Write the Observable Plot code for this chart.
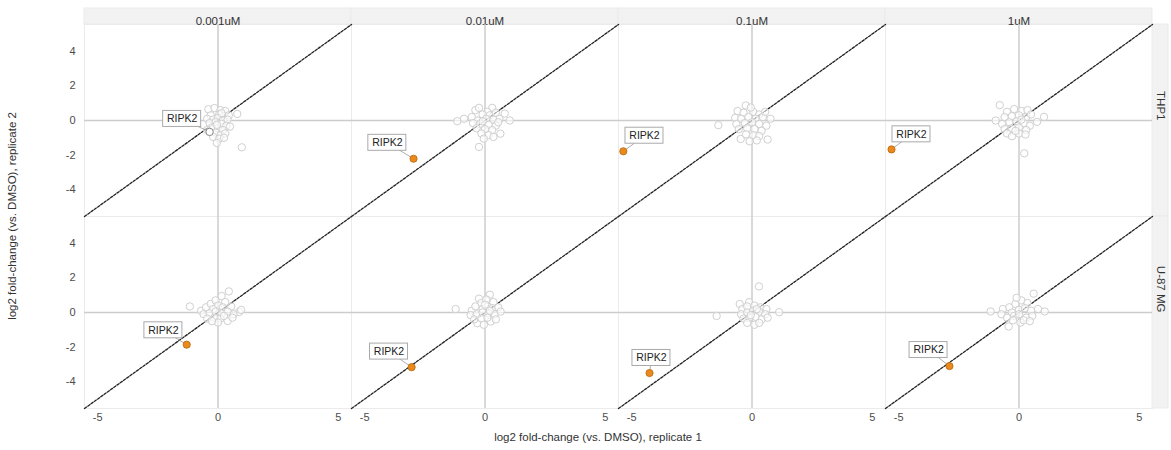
<!DOCTYPE html>
<html><head><meta charset="utf-8">
<script src="https://cdn.jsdelivr.net/npm/d3@7"></script>
<script src="https://cdn.jsdelivr.net/npm/@observablehq/plot@0.6"></script>
<style>body{margin:0;background:#fff} #chart svg{display:block}</style>
</head><body><div id="chart"></div>
<script>
const concentrations = ["0.001uM", "0.01uM", "0.1uM", "1uM"];
const cellLines = ["THP1", "U-87 MG"];
const xTicks = [-5, 0, 5];
const yTicks = [-4, -2, 0, 2, 4];
const axisRange = [-5.55, 5.55];
const xTitle = "log2 fold-change (vs. DMSO), replicate 1";
const yTitle = "log2 fold-change (vs. DMSO), replicate 2";
const geneName = "RIPK2";

// background proteins, [replicate1, replicate2]
const thp1_0001 = [[-0.4,0.65],[-0.15,0.72],[0.1,0.6],[0.3,0.55],[0.05,0.35],[-0.3,0.3],[0.25,0.25],[0.45,0.3],[0.8,0.38],[-0.45,0.1],[-0.2,0.05],[0.0,0.15],[0.2,0.0],[0.4,0.05],[-0.35,-0.15],[-0.1,-0.1],[0.15,-0.2],[0.35,-0.3],[0.5,-0.35],[-0.25,-0.4],[0.0,-0.45],[0.2,-0.55],[-0.45,-0.55],[-0.1,-0.7],[0.1,-0.85],[0.3,-0.75],[-0.2,-0.95],[0.05,-1.05],[-0.05,-1.3],[0.99,-1.55],[0.15,0.42],[-0.05,-0.25],[0.25,-1.0]];
const thp1_001 = [[-1.15,-0.04],[-0.87,0.1],[-0.55,0.2],[-0.4,0.6],[-0.25,0.73],[0.3,0.73],[0.1,0.5],[-0.1,0.35],[0.2,0.3],[0.45,0.45],[0.82,0.4],[1.03,0.0],[0.6,0.1],[0.35,0.05],[0.05,0.1],[-0.3,0.0],[-0.5,-0.15],[-0.2,-0.2],[0.15,-0.25],[0.45,-0.3],[0.64,-0.76],[0.3,-0.55],[0.0,-0.5],[-0.35,-0.45],[-0.15,-0.75],[0.15,-0.85],[0.35,-0.95],[-0.05,-1.05],[-0.25,-1.53],[0.55,-0.1],[-0.1,-0.05]];
const thp1_01 = [[-1.4,-0.27],[-0.26,0.87],[-0.6,0.55],[-0.35,0.45],[0.05,0.5],[0.3,0.35],[-0.7,0.15],[-0.45,0.1],[-0.15,0.2],[0.15,0.1],[0.45,0.2],[0.77,0.1],[-0.65,-0.2],[-0.3,-0.15],[0.0,-0.1],[0.3,-0.2],[0.6,-0.3],[-0.55,-0.5],[-0.2,-0.45],[0.1,-0.5],[0.4,-0.6],[-0.47,-1.07],[-0.25,-0.8],[0.05,-0.85],[0.3,-0.9],[0.65,-1.1],[-0.1,-1.2],[0.2,-1.15],[-0.05,0.75],[0.55,0.5]];
const thp1_1 = [[-0.8,0.89],[-0.97,0.0],[1.04,0.21],[0.75,-0.08],[0.22,-1.9],[-0.5,0.5],[-0.2,0.66],[0.1,0.55],[0.35,0.6],[-0.6,0.2],[-0.3,0.25],[0.0,0.3],[0.3,0.2],[0.5,0.35],[-0.7,-0.2],[-0.4,-0.1],[-0.1,-0.05],[0.2,-0.15],[0.45,-0.3],[-0.6,-0.5],[-0.3,-0.45],[0.0,-0.4],[0.3,-0.55],[-0.5,-0.75],[-0.29,-0.91],[0.0,-0.75],[0.27,-0.81],[0.1,0.05],[-0.15,-0.6]];
const u87_0001 = [[-1.17,0.35],[0.45,1.22],[0.88,0.03],[0.4,-0.49],[-0.7,0.1],[-0.5,0.3],[-0.3,0.5],[-0.1,0.7],[0.15,0.95],[0.3,0.6],[0.0,0.4],[-0.2,0.2],[0.2,0.3],[0.55,0.35],[-0.6,-0.1],[-0.35,-0.05],[-0.1,0.05],[0.15,-0.05],[0.4,0.05],[0.65,-0.1],[-0.45,-0.35],[-0.15,-0.3],[0.1,-0.35],[0.0,-0.58],[0.25,-0.2],[-0.25,-0.5],[0.6,-0.3],[0.96,0.15]];
const u87_001 = [[-1.22,0.2],[0.2,1.03],[-0.25,0.8],[-0.32,-0.62],[0.24,-0.52],[-0.55,0.1],[-0.4,0.35],[-0.15,0.55],[0.05,0.75],[0.35,0.6],[0.1,0.35],[-0.1,0.2],[0.3,0.25],[0.55,0.3],[-0.6,-0.15],[-0.35,-0.1],[-0.1,0.0],[0.15,-0.05],[0.4,-0.1],[0.65,0.05],[-0.45,-0.4],[-0.15,-0.35],[0.1,-0.3],[0.45,-0.4],[-0.05,-0.71],[0.0,0.45],[0.2,0.1]];
const u87_01 = [[0.29,1.51],[1.13,0.02],[-0.51,0.49],[-1.47,-0.2],[-0.12,0.6],[-0.4,0.2],[-0.2,0.35],[0.1,0.4],[0.35,0.3],[0.6,0.2],[-0.45,-0.1],[-0.2,0.0],[0.05,0.1],[0.3,0.05],[0.55,-0.1],[-0.35,-0.35],[-0.1,-0.3],[0.15,-0.25],[0.4,-0.4],[0.65,-0.3],[-0.2,-0.6],[0.1,-0.71],[0.3,-0.6],[-0.05,-0.15],[0.2,0.2]];
const u87_1 = [[-1.18,0.06],[0.61,1.09],[1.07,0.06],[-0.43,-0.81],[-0.67,0.2],[-0.73,-0.1],[-0.4,0.3],[-0.15,0.5],[0.1,0.7],[0.35,0.55],[0.79,0.2],[-0.3,0.0],[0.0,0.15],[0.25,0.25],[0.5,0.1],[-0.5,-0.3],[-0.2,-0.2],[0.06,-0.58],[0.3,-0.3],[0.55,-0.2],[-0.25,-0.45],[0.2,-0.45],[0.45,-0.5],[0.0,-0.1],[-0.1,0.85]];

// RIPK2 per panel (THP1 x4, then U-87 MG x4): [rep1, rep2]
const ripk2Values = [[-0.35,-0.66],[-2.97,-2.21],[-5.35,-1.78],[-5.3,-1.67],[-1.3,-1.86],[-3.05,-3.16],[-4.26,-3.5],[-2.89,-3.1]];
// label anchor (repelled position) per panel, in data units
const ripk2LabelPos = [[-1.49,0.09],[-4.06,-1.29],[-4.47,-0.88],[-4.47,-0.8],[-2.27,-1.03],[-3.99,-2.26],[-4.18,-2.63],[-3.76,-2.17]];
const ripk2Significant = [false,true,true,true,true,true,true,true];

const background = [thp1_0001, thp1_001, thp1_01, thp1_1, u87_0001, u87_001, u87_01, u87_1];
const points = [];
const ripk2 = [];
background.forEach((arr, i) => {
  const cell = cellLines[Math.floor(i / 4)], conc = concentrations[i % 4];
  arr.forEach(([x, y]) => points.push({cell, conc, x, y}));
  ripk2.push({cell, conc, x: ripk2Values[i][0], y: ripk2Values[i][1],
    lx: ripk2LabelPos[i][0], ly: ripk2LabelPos[i][1], sig: ripk2Significant[i]});
});

const font = "'Liberation Sans', Arial, sans-serif";
const fmt = d => String(d);
const chart = Plot.plot({
  width: 1171, height: 450,
  marginLeft: 84, marginRight: 19, marginTop: 24, marginBottom: 42,
  style: {fontFamily: font, fontSize: "11px", color: "#4d4d4d", background: "#fff"},
  x: {domain: axisRange, ticks: xTicks, tickFormat: fmt, tickSize: 0, tickPadding: 5, label: null},
  y: {domain: axisRange, ticks: yTicks, tickFormat: fmt, tickSize: 0, tickPadding: 9, label: null},
  fx: {domain: concentrations, padding: 0, axis: null, label: null},
  fy: {domain: cellLines, padding: 0, axis: null, label: null},
  marks: [
    Plot.frame({stroke: "#ebebeb"}),
    // facet strips
    Plot.rect(concentrations, {fx: d => d, fy: () => cellLines[0], x1: axisRange[0], x2: axisRange[1], y1: axisRange[1], y2: axisRange[1], insetTop: -16, fill: "#f2f2f2", stroke: "#ebebeb"}),
    Plot.text(concentrations, {fx: d => d, fy: () => cellLines[0], text: d => d, frameAnchor: "top", dy: -8, fill: "#333", fontSize: 11.5}),
    Plot.rect(cellLines, {fx: () => concentrations[3], fy: d => d, x1: axisRange[1], x2: axisRange[1], y1: axisRange[0], y2: axisRange[1], insetRight: -16, fill: "#f2f2f2", stroke: "#ebebeb"}),
    Plot.text(cellLines, {fx: () => concentrations[3], fy: d => d, text: d => d, frameAnchor: "right", dx: 8, rotate: 90, fill: "#333", fontSize: 11.5}),
    Plot.ruleX([0], {stroke: "#cccccc", strokeWidth: 1.5}),
    Plot.ruleY([0], {stroke: "#cccccc", strokeWidth: 1.5}),
    Plot.line(axisRange, {x: d => d, y: d => d, stroke: "#222", strokeWidth: 1.3, strokeDasharray: "2.5,1.5"}),
    Plot.dot(points, {x: "x", y: "y", fx: "conc", fy: "cell", r: 3.7, stroke: "#d0d0d0", fill: "white", fillOpacity: 0.6, strokeWidth: 1}),
    Plot.link(ripk2, {x1: "lx", y1: "ly", x2: "x", y2: "y", fx: "conc", fy: "cell", stroke: "#999", strokeWidth: 0.8}),
    Plot.dot(ripk2.filter(d => !d.sig), {x: "x", y: "y", fx: "conc", fy: "cell", r: 3.7, stroke: "#888", fill: "white", strokeWidth: 1}),
    Plot.dot(ripk2.filter(d => d.sig), {x: "x", y: "y", fx: "conc", fy: "cell", r: 3.6, stroke: "#b8660e", fill: "#ea8a1c", strokeWidth: 0.8}),
    Plot.rect(ripk2, {x1: "lx", x2: "lx", y1: "ly", y2: "ly", fx: "conc", fy: "cell", insetLeft: -19, insetRight: -19, insetTop: -8, insetBottom: -8, fill: "white", stroke: "#aaa", strokeWidth: 1}),
    Plot.text(ripk2, {x: "lx", y: "ly", fx: "conc", fy: "cell", text: () => geneName, fill: "#222", fontSize: 10.5})
  ]
});
document.getElementById("chart").appendChild(chart);

const svg = d3.select(chart);
svg.append("text").text(xTitle)
  .attr("x", (84 + 1152) / 2 - 20).attr("y", 441)
  .attr("text-anchor", "middle").attr("font-family", font).attr("font-size", 11.5).attr("fill", "#333");
svg.append("text").text(yTitle)
  .attr("transform", `translate(16,${(24 + 408) / 2}) rotate(-90)`)
  .attr("text-anchor", "middle").attr("font-family", font).attr("font-size", 11.5).attr("fill", "#333");
</script></body></html>
